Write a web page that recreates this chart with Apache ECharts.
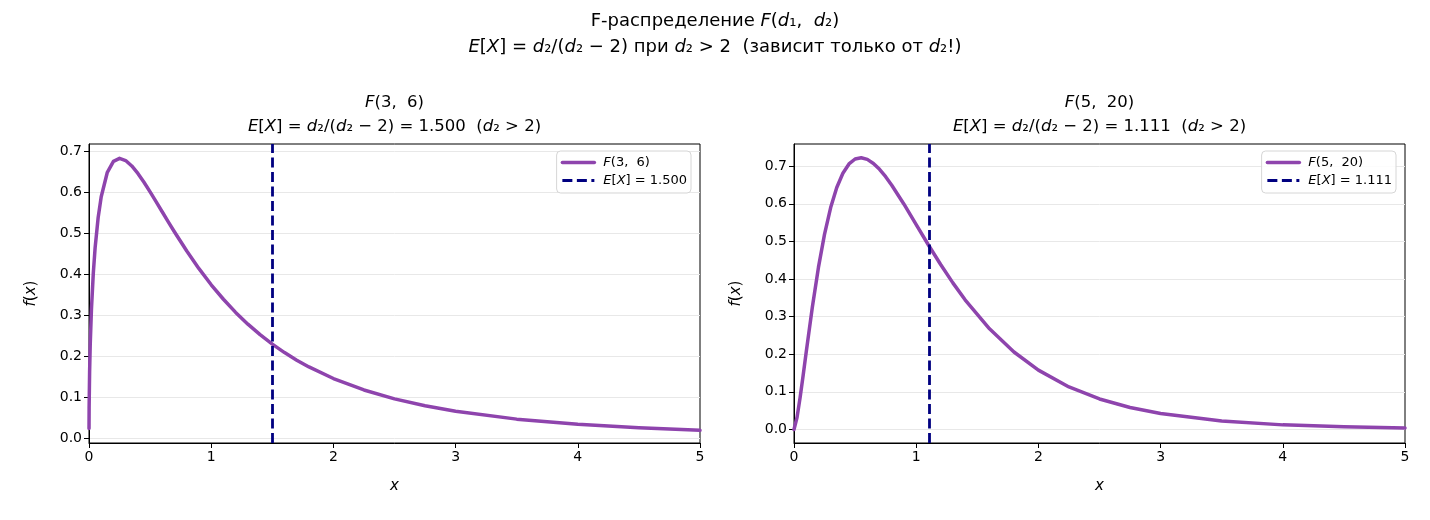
<!DOCTYPE html>
<html>
<head>
    <meta charset="utf-8">
    <title>F-распределение</title>
    <script src="https://cdn.jsdelivr.net/npm/echarts@6/dist/echarts.min.js" type="text/javascript" charset="utf-8"></script>
</head>
<body style="margin:0;background:#fff;">
<div id="chart" style="width: 1430px;height: 520px;"></div>
</body>
<script type="text/javascript">

    // значения
    var xLeft = [0.0001, 0.001, 0.005, 0.01, 0.02, 0.035, 0.05, 0.075, 0.1, 0.15, 0.2, 0.25, 0.3, 0.35, 0.4, 0.45,
        0.5, 0.55, 0.6, 0.65, 0.7, 0.8, 0.9, 1.0, 1.1, 1.2, 1.3, 1.4, 1.5, 1.6, 1.7, 1.8, 2.0, 2.25, 2.5, 2.75, 3.0, 3.5, 4.0, 4.5, 5.0];
    var yLeft = [0.0232, 0.0732, 0.1622, 0.2269, 0.3138, 0.4015, 0.4642, 0.5384, 0.5891, 0.6489, 0.6757, 0.6829, 0.6776, 0.6643, 0.6460, 0.6245,
        0.6011, 0.5766, 0.5519, 0.5272, 0.5030, 0.4566, 0.4135, 0.3741, 0.3387, 0.3066, 0.2778, 0.2521, 0.2291, 0.2084, 0.1899, 0.1733,
        0.1450, 0.1171, 0.0954, 0.0784, 0.0651, 0.0458, 0.0331, 0.0245, 0.0185];

    var xRight = [0, 0.025, 0.05, 0.075, 0.1, 0.15, 0.2, 0.25, 0.3, 0.35, 0.4, 0.45, 0.5, 0.55, 0.6, 0.65, 0.7, 0.75, 0.8, 0.9,
        1.0, 1.1, 1.2, 1.3, 1.4, 1.6, 1.8, 2.0, 2.25, 2.5, 2.75, 3.0, 3.5, 4.0, 4.5, 5.0];
    var yRight = [0, 0.0324, 0.0849, 0.1444, 0.2059, 0.3251, 0.4308, 0.5194, 0.5899, 0.6433, 0.6813, 0.7059, 0.7191, 0.7225, 0.7181, 0.7073, 0.6916, 0.6721, 0.6494, 0.5989,
        0.5448, 0.4905, 0.4385, 0.3898, 0.3448, 0.2675, 0.2059, 0.1578, 0.1130, 0.0811, 0.0584, 0.0422, 0.0225, 0.0122, 0.0069, 0.0039];

    var means = [1.5, 1.111];
    var xTicks = [0, 1, 2, 3, 4, 5];
    var yTicks = [0, 0.1, 0.2, 0.3, 0.4, 0.5, 0.6, 0.7];
    var yLimLeft = [-0.0125, 0.718];
    var yLimRight = [-0.036, 0.759];

    var FONT = 'DejaVu Sans';
    var PURPLE = '#8e44ad';
    var NAVY = '#000080';

    function mathRich(size) {
        return {
            n: {fontSize: size, fontFamily: FONT, color: '#000'},
            i: {fontSize: size, fontFamily: FONT, fontStyle: 'italic', color: '#000'}
        };
    }

    var legendText = {
        'F(3, 6)': '{i|F}{n|(3,  6)}',
        'E[X] = 1.500': '{i|E}{n|[}{i|X}{n|] = 1.500}',
        'F(5, 20)': '{i|F}{n|(5,  20)}',
        'E[X] = 1.111': '{i|E}{n|[}{i|X}{n|] = 1.111}'
    };

    var grids = [
        {left: 89, right: 730, top: 144, bottom: 77},
        {left: 794, right: 25, top: 144, bottom: 77}
    ];

    function makeX(idx) {
        return {
            type: 'value', gridIndex: idx, min: xTicks[0], max: xTicks[xTicks.length - 1], interval: 1,
            axisLine: {show: true, onZero: false, lineStyle: {color: '#000', width: 1}},
            axisTick: {show: true, length: 5, lineStyle: {color: '#000'}},
            axisLabel: {color: '#000', fontSize: 14, fontFamily: FONT, margin: 7},
            splitLine: {show: false},
            name: 'x', nameLocation: 'middle', nameGap: 36,
            nameTextStyle: {color: '#000', fontSize: 15, fontFamily: FONT, fontStyle: 'italic'}
        };
    }

    function makeY(idx, lim) {
        return {
            type: 'value', gridIndex: idx, min: lim[0], max: lim[1],
            axisLine: {show: true, onZero: false, lineStyle: {color: '#000', width: 1}},
            axisTick: {show: true, length: 5, customValues: yTicks, lineStyle: {color: '#000'}},
            axisLabel: {color: '#000', fontSize: 14, fontFamily: FONT, margin: 7, customValues: yTicks,
                formatter: function (v) { return v.toFixed(1); }},
            splitLine: {show: true, lineStyle: {color: '#e8e8e8', width: 1}},
            name: '{i|f}{n|(}{i|x}{n|)}', nameLocation: 'middle', nameGap: 50,
            nameTextStyle: {rich: mathRich(15)}
        };
    }

    function makeLegend(names, right) {
        return {
            orient: 'vertical', right: right, top: 151,
            data: names,
            itemWidth: 32, itemHeight: 14, itemGap: 5,
            padding: [5, 4, 6, 4],
            borderColor: '#d6d6d6', borderWidth: 1, borderRadius: 4,
            backgroundColor: 'rgba(255,255,255,0.85)',
            itemStyle: {opacity: 0, borderWidth: 0},
            lineStyle: {width: 'inherit'},
            textStyle: {fontSize: 13, fontFamily: FONT, padding: [0, 0, 0, 4], rich: mathRich(13)},
            formatter: function (name) { return legendText[name]; }
        };
    }

    function pairs(xs, ys) {
        return xs.map(function (x, i) { return [x, ys[i]]; });
    }

    function curve(name, idx, data) {
        return {
            name: name, type: 'line', xAxisIndex: idx, yAxisIndex: idx,
            data: data, showSymbol: false, symbol: 'none', smooth: false,
            lineStyle: {color: PURPLE, width: 3.5, join: 'round', cap: 'round'}, itemStyle: {color: PURPLE},
            z: 3
        };
    }

    function meanLine(name, idx, m) {
        return {
            name: name, type: 'line', xAxisIndex: idx, yAxisIndex: idx,
            data: [], symbol: 'none',
            lineStyle: {color: NAVY, width: 2.8, type: [10, 4.5]}, itemStyle: {color: NAVY},
            markLine: {
                silent: true, symbol: ['none', 'none'], label: {show: false},
                lineStyle: {color: NAVY, width: 2.8, type: [10, 4.5]},
                emphasis: {disabled: true},
                data: [{xAxis: m}]
            },
            z: 4
        };
    }

    function textEl(x, y, text, size) {
        return {
            type: 'text', x: x, y: y,
            style: {text: text, rich: mathRich(size), align: 'center', verticalAlign: 'middle',
                fontSize: size, fontFamily: FONT}
        };
    }

    var myChart = echarts.init(document.getElementById('chart'));

    myChart.setOption({
        animation: false,
        backgroundColor: '#fff',
        grid: grids.map(function (g) {
            return Object.assign({show: true, borderColor: '#000', borderWidth: 1, backgroundColor: 'transparent'}, g);
        }),
        xAxis: [makeX(0), makeX(1)],
        yAxis: [makeY(0, yLimLeft), makeY(1, yLimRight)],
        legend: [
            makeLegend(['F(3, 6)', 'E[X] = 1.500'], 739),
            makeLegend(['F(5, 20)', 'E[X] = 1.111'], 34)
        ],
        graphic: [
            textEl(715, 21, '{n|F-распределение }{i|F}{n|(}{i|d}{n|₁,  }{i|d}{n|₂)}', 18),
            textEl(715, 47, '{i|E}{n|[}{i|X}{n|] = }{i|d}{n|₂/(}{i|d}{n|₂ − 2) при }{i|d}{n|₂ > 2  (зависит только от }{i|d}{n|₂!)}', 18),
            textEl(394.5, 103, '{i|F}{n|(3,  6)}', 16.5),
            textEl(394.5, 127, '{i|E}{n|[}{i|X}{n|] = }{i|d}{n|₂/(}{i|d}{n|₂ − 2) = 1.500  (}{i|d}{n|₂ > 2)}', 16.5),
            textEl(1099.5, 103, '{i|F}{n|(5,  20)}', 16.5),
            textEl(1099.5, 127, '{i|E}{n|[}{i|X}{n|] = }{i|d}{n|₂/(}{i|d}{n|₂ − 2) = 1.111  (}{i|d}{n|₂ > 2)}', 16.5)
        ],
        series: [
            curve('F(3, 6)', 0, pairs(xLeft, yLeft)),
            meanLine('E[X] = 1.500', 0, means[0]),
            curve('F(5, 20)', 1, pairs(xRight, yRight)),
            meanLine('E[X] = 1.111', 1, means[1])
        ]
    });
</script>
</html>
